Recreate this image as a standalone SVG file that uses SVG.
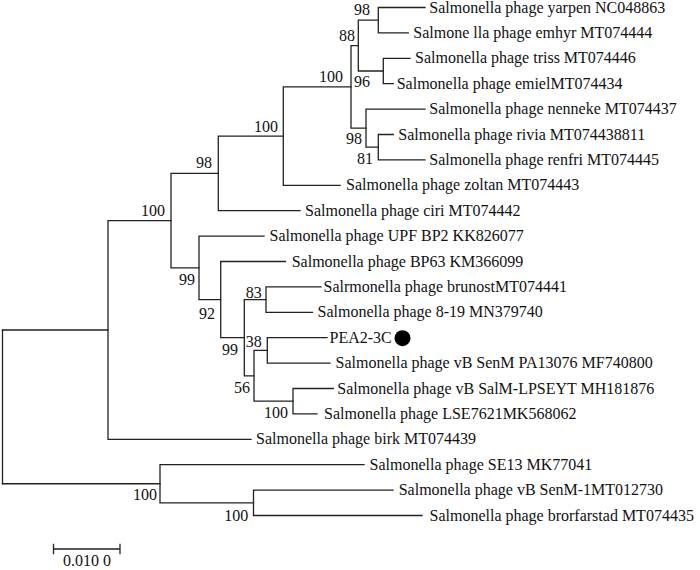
<svg xmlns="http://www.w3.org/2000/svg" width="700" height="570" viewBox="0 0 700 570">
<style>
text{font-family:"Liberation Serif","Times New Roman",serif;font-size:16px;fill:#111}
.bs{text-anchor:end}
.br{fill:none;stroke:#222;stroke-width:1.3;stroke-linecap:square}
</style>
<rect width="700" height="570" fill="#fff"/>
<g id="connectors" class="br">
<path d="M2.5 330V483.75"/>
<path d="M2.5 330H108M2.5 483.75H160"/>
<path d="M108 220.6V439.3M108 220.6H171M108 439.3H251"/>
<path d="M171 173.4V267.85M171 173.4H218.3M171 267.85H199"/>
<path d="M218.3 136.1V210.7M218.3 136.1H283.3M218.3 210.7H300"/>
<path d="M283.3 86.9V185.3M283.3 86.9H351M283.3 185.3H340"/>
<path d="M351 45.6V128.15M351 45.6H358.3M351 128.15H366"/>
<path d="M358.3 20.2V71M358.3 20.2H378.3M358.3 71H383.3"/>
<path d="M378.3 7.5V32.9M378.3 7.5H425M378.3 32.9H408.3"/>
<path d="M383.3 58.3V83.7M383.3 58.3H410M383.3 83.7H393.3"/>
<path d="M366 109.1V147.2M366 109.1H425M366 147.2H378.3"/>
<path d="M378.3 134.5V159.9M378.3 134.5H393.3M378.3 159.9H425"/>
<path d="M199 236.1V299.6M199 236.1H264M199 299.6H220.7"/>
<path d="M220.7 261.5V337.7M220.7 261.5H285.5M220.7 337.7H244.3"/>
<path d="M244.3 299.6V375.8M244.3 299.6H266M244.3 375.8H254"/>
<path d="M266 286.9V312.3M266 286.9H321M266 312.3H312.5"/>
<path d="M254 350.4V401.2M254 350.4H267.3M254 401.2H293"/>
<path d="M267.3 337.7V363.1M267.3 337.7H327M267.3 363.1H330"/>
<path d="M293 388.5V413.9M293 388.5H333.3M293 413.9H317"/>
<path d="M160 464.7V502.8M160 464.7H364M160 502.8H253.5"/>
<path d="M253.5 490.1V515.5M253.5 490.1H393M253.5 515.5H422"/>
</g>
<g id="n-J"><text class="bs" x="370" y="15.3">98</text></g>
<g id="n-H"><text class="bs" x="355" y="41">88</text></g>
<g id="n-G"><text class="bs" x="343" y="82">100</text></g>
<g id="n-K"><text class="bs" x="370" y="87">96</text></g>
<g id="n-I"><text class="bs" x="362" y="143.6">98</text></g>
<g id="n-L"><text class="bs" x="373" y="163.6">81</text></g>
<g id="n-F"><text class="bs" x="278" y="132">100</text></g>
<g id="n-D"><text class="bs" x="212" y="167.6">98</text></g>
<g id="n-C"><text class="bs" x="165" y="216.3">100</text></g>
<g id="n-E"><text class="bs" x="195" y="285.3">99</text></g>
<g id="n-M"><text class="bs" x="215" y="318.6">92</text></g>
<g id="n-N"><text class="bs" x="238" y="354.6">99</text></g>
<g id="n-O"><text class="bs" x="261.7" y="298">83</text></g>
<g id="n-Q"><text class="bs" x="261.7" y="347">38</text></g>
<g id="n-P"><text class="bs" x="250" y="393">56</text></g>
<g id="n-S"><text class="bs" x="288" y="418">100</text></g>
<g id="n-B"><text class="bs" x="157" y="500.3">100</text></g>
<g id="n-T"><text class="bs" x="248.3" y="521.3">100</text></g>
<g id="leaf-yarpen"><text x="429.3" y="12.5">Salmonella phage yarpen NC048863</text></g>
<g id="leaf-emhyr"><text x="413.3" y="37.9">Salmone lla phage emhyr MT074444</text></g>
<g id="leaf-triss"><text x="415" y="63.3">Salmonella phage triss MT074446</text></g>
<g id="leaf-emiel"><text x="396.7" y="88.7">Salmonella phage emielMT074434</text></g>
<g id="leaf-nenneke"><text x="429.3" y="114.1">Salmonella phage nenneke MT074437</text></g>
<g id="leaf-rivia"><text x="398.3" y="139.5">Salmonella phage rivia MT074438811</text></g>
<g id="leaf-renfri"><text x="429.3" y="164.9">Salmonella phage renfri MT074445</text></g>
<g id="leaf-zoltan"><text x="346" y="190.3">Salmonella phage zoltan MT074443</text></g>
<g id="leaf-ciri"><text x="305" y="215.7">Salmonella phage ciri MT074442</text></g>
<g id="leaf-upf"><text x="269.5" y="241.1">Salmonella phage UPF BP2 KK826077</text></g>
<g id="leaf-bp63"><text x="291.7" y="266.5">Salmonella phage BP63 KM366099</text></g>
<g id="leaf-brunost"><text x="323.5" y="291.9">Salrmonella phage brunostMT074441</text></g>
<g id="leaf-819"><text x="317.5" y="317.3">Salmonella phage 8-19 MN379740</text></g>
<g id="leaf-pea"><text x="329.5" y="342.7">PEA2-3C</text><circle cx="402.5" cy="338.2" r="8" fill="#000"/></g>
<g id="leaf-pa13076"><text x="335.5" y="368.1">Salmonella phage vB SenM PA13076 MF740800</text></g>
<g id="leaf-lpseyt"><text x="337.3" y="393.5">Salmonella phage vB SalM-LPSEYT MH181876</text></g>
<g id="leaf-lse"><text x="324" y="418.9">Salmonella phage LSE7621MK568062</text></g>
<g id="leaf-birk"><text x="256" y="444.3">Salmonella phage birk MT074439</text></g>
<g id="leaf-se13"><text x="369.6" y="469.7">Salmonella phage SE13 MK77041</text></g>
<g id="leaf-senm1"><text x="398.7" y="495.1">Salmonella phage vB SenM-1MT012730</text></g>
<g id="leaf-brorfarstad"><text x="429.5" y="520.5">Salmonella phage brorfarstad MT074435</text></g>
<g id="scalebar">
<path class="br" d="M53.5 549H120M53.5 544.5V553.5M120 544.5V553.5"/>
<text x="87" y="566" text-anchor="middle">0.010 0</text>
</g>
</svg>
